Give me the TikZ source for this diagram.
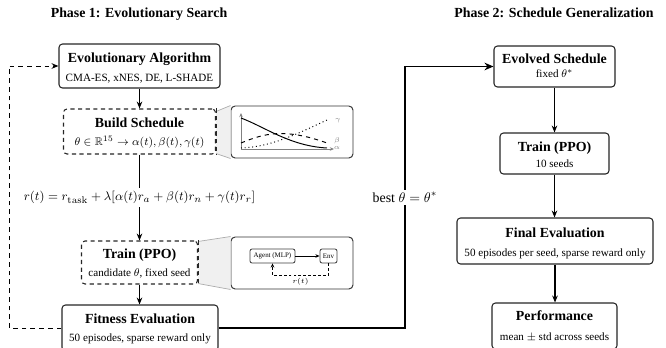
\documentclass[tikz,border=0pt]{standalone}
\usepackage{amsmath,amssymb}
\usepackage[no-math]{fontspec}
\setmainfont{Liberation Serif}
\usetikzlibrary{arrows.meta,calc}
\tikzset{
  sz/.style 2 args={minimum width=#1*0.72pt, minimum height=#2*0.72pt},
  box/.style={draw=black!85, line width=0.75pt, rounded corners=2.5pt, fill=white, inner sep=0pt},
  dbox/.style={box, dash pattern=on 3pt off 2.5pt},
  ibox/.style={draw=black!80, line width=0.7pt, rounded corners=3pt, fill=white, inner sep=0pt},
  sbox/.style={draw=black!75, line width=0.6pt, rounded corners=1.5pt, fill=white, inner sep=0pt, font=\fontsize{5}{6}\selectfont},
  ttl/.style={font=\bfseries, anchor=base, inner sep=0pt},
  subt/.style={font=\footnotesize, anchor=base, inner sep=0pt},
  arr/.style={-{Stealth[length=5pt,width=4pt]}, line width=0.8pt},
  bigarr/.style={-{Stealth[length=6.5pt,width=5.5pt]}, line width=1.3pt},
  smarr/.style={-{Stealth[length=3pt,width=2.6pt]}, line width=0.6pt},
  axarr/.style={-{Stealth[length=3pt,width=2.5pt]}, line width=0.6pt, draw=gray},
  funnel/.style={fill=gray!12},
  funedge/.style={draw=gray!65, line width=0.5pt},
  tinylbl/.style={font=\fontsize{4.5}{5}\selectfont, text=gray, inner sep=0pt},
}
\begin{document}
\begin{tikzpicture}[x=0.72pt,y=-0.72pt]
\useasboundingbox (0,0) rectangle (666,347);
\clip (0,0) rectangle (666,347);

% phase titles
\node[ttl] (p1) at (139,17) {Phase 1: Evolutionary Search};
\node[ttl] (p2) at (554,17) {Phase 2: Schedule Generalization};

% left column boxes
\node[box, sz={161}{44}] (evo) at (139.5,66) {};
\node[ttl] (evoT) at (139.5,62) {Evolutionary Algorithm};
\node[subt] (evoS) at (139.5,81) {CMA-ES, xNES, DE, L-SHADE};

% insets (with funnels)
\node[ibox, sz={122}{52}] (inA) at (292,132) {};
\node[ibox, sz={122}{52}] (inB) at (292,263) {};

\node[dbox, sz={152}{45}] (build) at (139.5,131.5) {};
\node[dbox, sz={116}{43}] (train1) at (139.5,262.5) {};

\fill[funnel] ($(build.north east)+(0,3)$) -- (inA.north west) -- (inA.south west) -- ($(build.south east)+(0,-1)$) -- cycle;
\draw[funedge] ($(build.north east)+(0,3)$) -- (inA.north west) ($(build.south east)+(0,-1)$) -- (inA.south west);
\fill[funnel] ($(train1.north east)+(0,1)$) -- (inB.north west) -- (inB.south west) -- ($(train1.south east)+(0,-1)$) -- cycle;
\draw[funedge] ($(train1.north east)+(0,1)$) -- (inB.north west) ($(train1.south east)+(0,-1)$) -- (inB.south west);
\draw[dash pattern=on 3pt off 2.5pt, draw=black!85, line width=0.75pt] (build.north east) -- (build.south east);
\draw[dash pattern=on 3pt off 2.5pt, draw=black!85, line width=0.75pt] (train1.north east) -- (train1.south east);

\node[ttl] (buildT) at (139.5,127) {Build Schedule};
\node[subt] (buildS) at (139.5,145) {$\theta\in\mathbb{R}^{15}\rightarrow\alpha(t),\beta(t),\gamma(t)$};

\node[ttl] (trainT) at (139.5,258) {Train (PPO)};
\node[subt] (trainS) at (139.5,276) {candidate $\theta$, fixed seed};

\node[box, sz={156}{46}] (fit) at (140,328) {};
\node[ttl] (fitT) at (140,323) {Fitness Evaluation};
\node[subt] (fitS) at (140,341) {50 episodes, sparse reward only};

% right column
\node[box, sz={121}{41}] (evolved) at (554.5,66.5) {};
\node[ttl] (evolvedT) at (554.5,63) {Evolved Schedule};
\node[subt] (evolvedS) at (554.5,77) {fixed $\theta^*$};

\node[box, sz={109}{41}] (train2) at (554.5,153.5) {};
\node[ttl] (train2T) at (554.5,151) {Train (PPO)};
\node[subt] (train2S) at (554.5,167) {10 seeds};

\node[box, sz={196}{46}] (final) at (555,241) {};
\node[ttl] (finalT) at (555,237) {Final Evaluation};
\node[subt] (finalS) at (555,256) {50 episodes per seed, sparse reward only};

\node[box, sz={125}{46}] (perf) at (554.5,326) {};
\node[ttl] (perfT) at (554.5,320) {Performance};
\node[subt] (perfS) at (554.5,340) {mean $\pm$ std across seeds};

% left column arrows
\draw[arr] (evo.south) -- (evo.south |- build.north);
\draw[arr] (build.south) -- node[fill=white, inner sep=2pt, font=\fontsize{9.4}{11}\selectfont] (eq) {$r(t)=r_{\mathrm{task}}+\lambda[\alpha(t)r_a+\beta(t)r_n+\gamma(t)r_r]$} (build.south |- train1.north);
\draw[arr] (train1.south) -- (train1.south |- fit.north);

% right column arrows
\draw[arr] (evolved.south) -- (evolved.south |- train2.north);
\draw[arr] (train2.south) -- (train2.south |- final.north);
\draw[arr] (final.south) -- (final.south |- perf.north);

% feedback loop
\coordinate (fbx) at (9,0);
\draw[arr, line width=0.7pt, dash pattern=on 3.5pt off 2.8pt] (fit.west) -- (fit.west -| fbx) |- (evo.west);

% best theta
\coordinate (bx) at (405,0);
\draw[bigarr] (fit.east) -- (fit.east -| bx) |- node[pos=0.25, fill=white, inner sep=2pt] (best) {best $\theta=\theta^*$} (evolved.west);

% inset A: schedule plot
\coordinate (o) at (241,149);
\draw[axarr] (o) -- (241,113);
\draw[axarr] (o) -- (334,149);
\draw[line width=0.7pt] (241,118) .. controls (265,127) and (290,146) .. (327,148);
\draw[line width=0.7pt, dashed] (241,143) .. controls (265,133) and (285,128) .. (327,143);
\draw[line width=0.7pt, dotted] (241,148) .. controls (270,147) and (295,135) .. (327,120);
\node[tinylbl] (lg) at (338,121) {$\gamma$};
\node[tinylbl] (lb) at (337,141) {$\beta$};
\node[tinylbl] (la) at (337,148) {$\alpha$};

% inset B: agent/env loop
\node[sbox, sz={45}{14}] (agent) at (272.5,256) {Agent (MLP)};
\node[sbox, sz={17}{14}] (env) at (328.5,256) {Env};
\draw[smarr] (agent) -- (env);
\coordinate (lp) at (0,275);
\draw[smarr, dash pattern=on 2pt off 1.5pt] (env.south) -- (env.south |- lp) -| node[pos=0.25, below=2pt, inner sep=0pt, font=\fontsize{5}{6}\selectfont] (rt) {$r(t)$} (agent.south);
\end{tikzpicture}
\end{document}
